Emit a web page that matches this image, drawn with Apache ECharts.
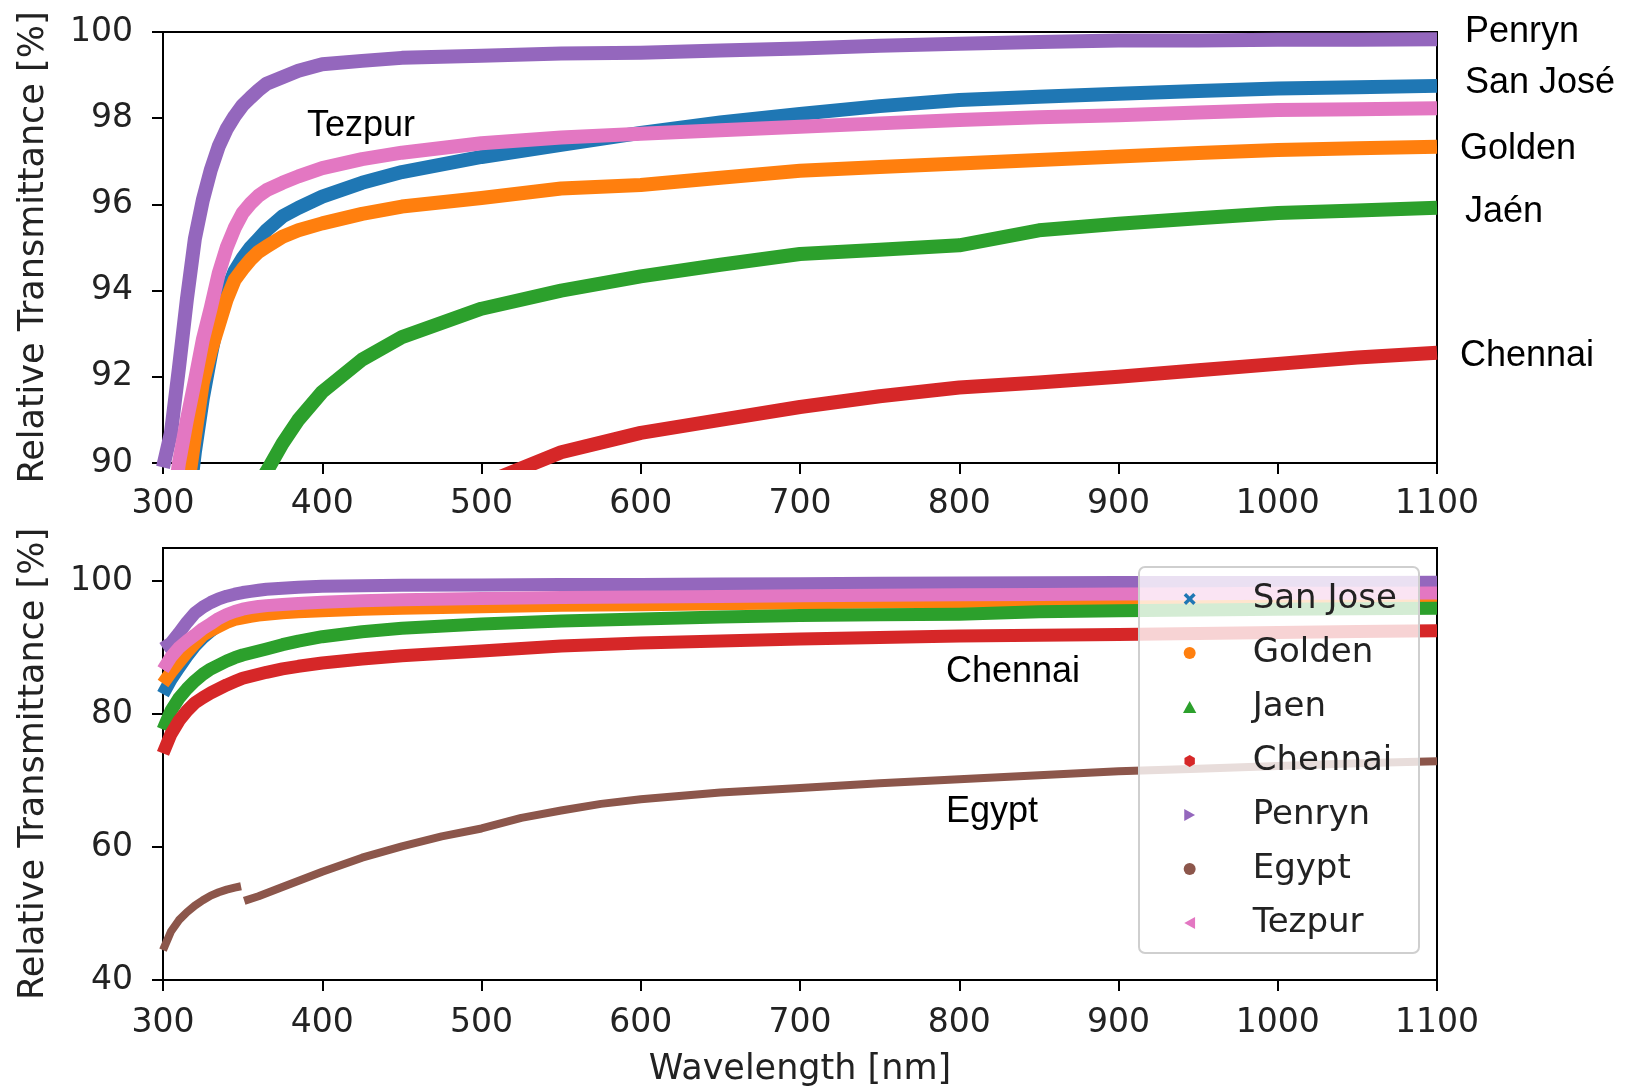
<!DOCTYPE html>
<html>
<head>
<meta charset="utf-8">
<script src="https://cdn.jsdelivr.net/npm/echarts@6/dist/echarts.min.js"></script>
<style>
html,body{margin:0;padding:0;background:#fff;}
#chart{width:1637px;height:1088px;}
</style>
</head>
<body>
<div id="chart"></div>
<script>
// ---- data (wavelength in nm, transmittance in %) ----
const wavelengths = [300,305,310,315,320,325,330,335,340,345,350,355,360,365,375,385,400,425,450,500,550,600,650,700,750,800,850,900,950,1000,1050,1100];
const sanJose = [83.0,85.2,87.0,88.7,90.25,91.5,92.5,93.4,94.0,94.45,94.75,95.0,95.2,95.4,95.72,95.92,96.18,96.5,96.75,97.1,97.38,97.66,97.9,98.1,98.28,98.42,98.5,98.57,98.63,98.69,98.72,98.75];
const golden  = [84.6,86.3,87.8,89.3,90.6,91.86,92.6,93.2,93.8,94.25,94.5,94.72,94.9,95.02,95.25,95.4,95.56,95.78,95.95,96.15,96.37,96.45,96.62,96.78,96.87,96.95,97.03,97.11,97.19,97.26,97.3,97.34];
const jaen    = [77.7,80.5,82.4,83.8,85.0,86.0,86.8,87.4,88.0,88.5,88.9,89.2,89.5,89.8,90.45,91.0,91.65,92.4,92.92,93.58,94.0,94.33,94.6,94.85,94.95,95.05,95.4,95.55,95.68,95.8,95.86,95.92];
const chennai = [74.1,77.0,79.0,80.5,81.7,82.5,83.2,83.8,84.4,84.9,85.4,85.7,86.0,86.3,86.8,87.2,87.7,88.3,88.8,89.5,90.25,90.7,91.0,91.3,91.55,91.75,91.87,92.0,92.15,92.3,92.45,92.56];
const penryn  = [89.9,90.7,92.2,93.8,95.2,96.1,96.8,97.35,97.75,98.05,98.3,98.48,98.65,98.8,98.95,99.1,99.25,99.33,99.4,99.45,99.5,99.52,99.57,99.62,99.68,99.73,99.77,99.8,99.8,99.82,99.82,99.83];
const tezpur  = [86.7,88.6,90.0,91.0,91.9,92.86,93.6,94.4,95.0,95.45,95.8,96.02,96.2,96.33,96.5,96.65,96.84,97.05,97.2,97.42,97.55,97.64,97.72,97.8,97.88,97.96,98.02,98.07,98.13,98.19,98.21,98.23];
const egyptWavelengths = [300,305,310,315,320,325,330,335,340,345,349,350,351,360,375,400,425,450,475,500,525,550,575,600,650,700,750,800,850,900,950,1000,1050,1100];
const egypt   = [44.5,47.3,49.0,50.2,51.2,52.0,52.7,53.2,53.6,53.9,54.1,null,51.9,52.6,54.0,56.3,58.4,60.1,61.6,62.8,64.4,65.5,66.5,67.2,68.2,68.9,69.6,70.2,70.8,71.4,71.8,72.2,72.6,72.9];

const topYTicks = [90,92,94,96,98,100];
const bottomYTicks = [40,60,80,100];

const seriesNames = ['San Jose','Golden','Jaen','Chennai','Penryn','Egypt','Tezpur'];
const colors = {'San Jose':'#1f77b4','Golden':'#ff7f0e','Jaen':'#2ca02c','Chennai':'#d62728','Penryn':'#9467bd','Egypt':'#8c564b','Tezpur':'#e377c2'};
const legendIcons = {
  'San Jose':'path://M0,2L2,0L5,3L8,0L10,2L7,5L10,8L8,10L5,7L2,10L0,8L3,5Z',
  'Golden':'circle',
  'Jaen':'path://M5,0L10,9L0,9Z',
  'Chennai':'path://M5,0L9.33,2.5L9.33,7.5L5,10L0.67,7.5L0.67,2.5Z',
  'Penryn':'path://M0,0L9,5L0,10Z',
  'Egypt':'circle',
  'Tezpur':'path://M9,0L0,5L9,10Z'
};

function pairs(xs, ys){ return xs.map((x,i)=>[x, ys[i]]); }

const topSets = [['San Jose',sanJose],['Golden',golden],['Jaen',jaen],['Chennai',chennai],['Penryn',penryn],['Tezpur',tezpur]];
const bottomSets = [['San Jose',sanJose],['Golden',golden],['Jaen',jaen],['Chennai',chennai],['Penryn',penryn],['Egypt',egypt],['Tezpur',tezpur]];

function mkSeries(name, ys, xs, idx, width){
  return {
    type:'line', name:name, xAxisIndex:idx, yAxisIndex:idx,
    data: pairs(xs, ys), symbol:'none', showSymbol:false, clip:true,
    smooth:false,
    connectNulls:false, animation:false, silent:true,
    lineStyle:{width:width, color:colors[name], join:'round', cap:'butt'},
    itemStyle:{color:colors[name]}, z:2
  };
}

const series = [];
topSets.forEach(s=>series.push(mkSeries(s[0], s[1], wavelengths, 0, 14)));
bottomSets.forEach(s=>{
  const isEgypt = s[0]==='Egypt';
  series.push(mkSeries(s[0], s[1], isEgypt?egyptWavelengths:wavelengths, 1, isEgypt?8:13));
});

const tickFont = {fontFamily:'DejaVu Sans', fontSize:33, color:'#222'};
const nameFont = {fontFamily:'DejaVu Sans', fontSize:35, color:'#222'};
const axisLine = {show:true, lineStyle:{color:'#000', width:2}};
const axisTick = {show:true, inside:false, length:11, lineStyle:{color:'#000', width:2}};

function xAxis(idx, withName, margin){
  return {
    type:'value', gridIndex:idx, min:300, max:1100, interval:100,
    axisLine:axisLine, axisTick:axisTick, splitLine:{show:false},
    axisLabel:Object.assign({margin:margin, formatter:function(v){return String(v);}}, tickFont),
    name: withName ? 'Wavelength [nm]' : '', nameLocation:'middle', nameGap:72,
    nameTextStyle: nameFont
  };
}
function yAxis(idx, min, max, ticks){
  return {
    type:'value', gridIndex:idx, min:min, max:max,
    axisLine:axisLine,
    axisTick:Object.assign({customValues:ticks}, axisTick),
    axisLabel:Object.assign({margin:30, customValues:ticks, formatter:function(v){return String(v);}}, tickFont),
    splitLine:{show:false},
    name:'Relative Transmittance [%]', nameLocation:'middle', nameGap:112,
    nameTextStyle: nameFont
  };
}

const annFont = '36px "Liberation Sans", Arial, sans-serif';
function ann(text, x, y){
  return {type:'text', x:x, y:y, z:30, silent:true,
    style:{text:text, font:annFont, fill:'#000', align:'left', verticalAlign:'middle', textAlign:'left', textVerticalAlign:'middle'}};
}

const option = {
  backgroundColor:'#fff',
  animation:false,
  grid:[
    {left:163, right:200, top:32, height:431, show:true, borderColor:'#000', borderWidth:2, backgroundColor:'transparent'},
    {left:163, right:200, top:548, height:432, show:true, borderColor:'#000', borderWidth:2, backgroundColor:'transparent'}
  ],
  xAxis:[xAxis(0,false,25), xAxis(1,true,27)],
  yAxis:[yAxis(0,90,100,topYTicks), yAxis(1,40,105,bottomYTicks)],
  legend:{
    orient:'vertical', left:1178, top:577, z:40,
    itemWidth:116, itemHeight:12, itemGap:20,
    textStyle:{fontFamily:'DejaVu Sans', fontSize:34, color:'#222', lineHeight:34},
    data: seriesNames.map(n=>({name:n, icon:legendIcons[n], itemStyle:{color:colors[n]}}))
  },
  graphic:[
    {type:'rect', z:20, silent:true, shape:{x:1139, y:567, width:280, height:386, r:6},
     style:{fill:'rgba(255,255,255,0.8)', stroke:'#cfcfcf', lineWidth:2}},
    ann('Tezpur', 307, 126),
    ann('Penryn', 1465, 32),
    ann('San José', 1465, 83),
    ann('Golden', 1460, 149),
    ann('Jaén', 1465, 212),
    ann('Chennai', 1460, 356),
    ann('Chennai', 946, 672),
    ann('Egypt', 946, 812)
  ],
  series: series
};

const chart = echarts.init(document.getElementById('chart'), null, {renderer:'canvas'});
chart.setOption(option);
</script>
</body>
</html>
